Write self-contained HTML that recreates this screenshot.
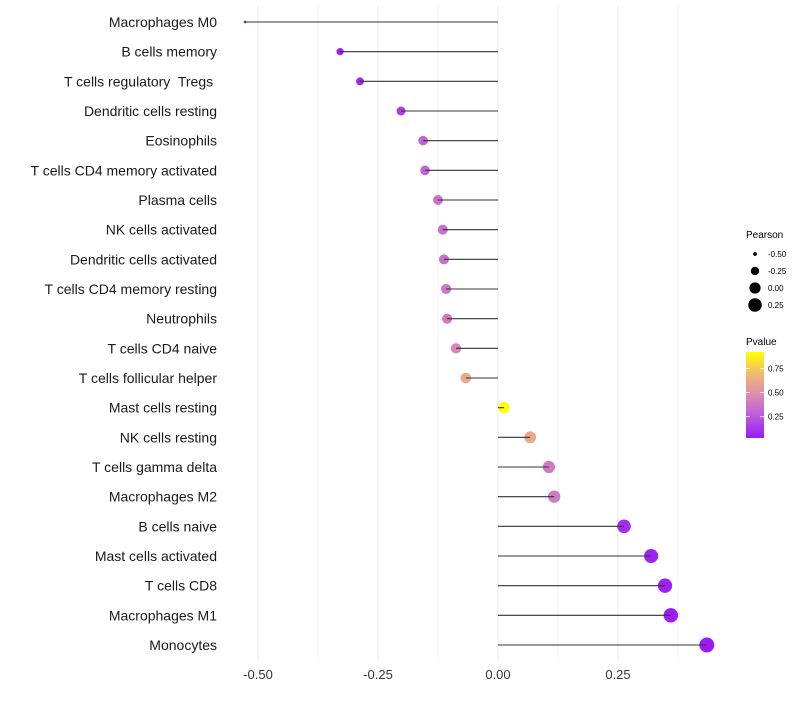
<!DOCTYPE html>
<html><head><meta charset="utf-8"><style>
body{margin:0;background:#fff;font-family:"Liberation Sans",sans-serif;}
svg text{font-family:"Liberation Sans",sans-serif;white-space:pre;}
</style></head><body>
<svg id="chart" width="800" height="700" xmlns="http://www.w3.org/2000/svg">
<defs><linearGradient id="pg" x1="0" y1="1" x2="0" y2="0">
<stop offset="0" stop-color="#9B1AF5"/><stop offset="0.3" stop-color="#C064D8"/><stop offset="0.5" stop-color="#DC8CB0"/><stop offset="0.7" stop-color="#EDB080"/><stop offset="1" stop-color="#FFFF00"/>
</linearGradient></defs>
<g id="grid"></g>
<g id="marks"></g>
<g id="ylab"></g>
<g id="xlab"></g>
<g>
<text x="746" y="238" font-size="10">Pearson</text>
<g id="sizeLeg"></g>
</g>
<g>
<text x="746" y="345" font-size="10">Pvalue</text>
<rect x="746" y="352" width="18" height="86" fill="url(#pg)"/>
<g id="colLeg"></g>
</g>
</svg>
<script>
const categories=["Macrophages M0","B cells memory","T cells regulatory  Tregs ","Dendritic cells resting","Eosinophils","T cells CD4 memory activated","Plasma cells","NK cells activated","Dendritic cells activated","T cells CD4 memory resting","Neutrophils","T cells CD4 naive","T cells follicular helper","Mast cells resting","NK cells resting","T cells gamma delta","Macrophages M2","B cells naive","Mast cells activated","T cells CD8","Macrophages M1","Monocytes"];
const pearson=[-0.527,-0.329,-0.2875,-0.202,-0.156,-0.152,-0.125,-0.115,-0.1125,-0.108,-0.106,-0.0875,-0.067,0.0125,0.067,0.106,0.117,0.2625,0.319,0.348,0.36,0.435];
const pvalue=[0.02,0.05,0.08,0.15,0.3,0.3,0.35,0.35,0.35,0.38,0.38,0.45,0.62,0.95,0.62,0.4,0.4,0.1,0.06,0.05,0.04,0.02];
const xTicks=[-0.5,-0.25,0,0.25];
const xTickLabels=["-0.50","-0.25","0.00","0.25"];
const sizeLegVals=[-0.5,-0.25,0,0.25];
const colLegVals=[0.25,0.5,0.75];

const NS="http://www.w3.org/2000/svg";
const X=v=>498+v*480;
const Y=i=>22+i*(623/21);
const R=p=>7.5*Math.sqrt(Math.max(0,p+0.56));
const PMIN=0.03,PMAX=0.92;
const stops=[[0,[0x9B,0x1A,0xF5]],[0.3,[0xC0,0x64,0xD8]],[0.5,[0xDC,0x8C,0xB0]],[0.7,[0xED,0xB0,0x80]],[1,[0xFF,0xFF,0x00]]];
function col(p){let t=Math.max(0,Math.min(1,(p-PMIN)/(PMAX-PMIN)));for(let k=1;k<stops.length;k++){if(t<=stops[k][0]){const a=stops[k-1],b=stops[k];const f=(t-a[0])/(b[0]-a[0]);const c=a[1].map((x,j)=>Math.round(x+(b[1][j]-x)*f));return `rgb(${c})`;}}return "#ff0";}
function mk(tag,attrs,parent){const e=document.createElementNS(NS,tag);for(const k in attrs)e.setAttribute(k,attrs[k]);parent.appendChild(e);return e;}
const grid=document.getElementById('grid'),marks=document.getElementById('marks'),ylab=document.getElementById('ylab'),xlab=document.getElementById('xlab');
for(let v=-0.5;v<=0.375+1e-9;v+=0.125){const g=mk('line',{x1:X(v),x2:X(v),y1:6,y2:662,stroke:Math.abs((v*4)%1)<1e-9?'#ebebeb':'#f3f3f3','stroke-width':1},grid);

}
xTicks.forEach((v,i)=>{const t=mk('text',{x:X(v),y:679,'font-size':13,'text-anchor':'middle',fill:'#333'},xlab);t.textContent=xTickLabels[i];

});
categories.forEach((c,i)=>{
const t=mk('text',{x:217,y:Y(i)+5,'font-size':14,'text-anchor':'end',fill:'#1a1a1a'},ylab);t.textContent=c;


const d=mk('circle',{cx:X(pearson[i]),cy:Y(i),r:R(pearson[i]),fill:col(pvalue[i])},marks);


const l=mk('line',{x1:X(0),x2:X(pearson[i]),y1:Y(i),y2:Y(i),stroke:'#333','stroke-width':1.1},marks);


});
const sl=document.getElementById('sizeLeg');
sizeLegVals.forEach((v,i)=>{const y=254+i*17;const c=mk('circle',{cx:755,cy:y,r:R(v),fill:'#000'},sl);


const t=mk('text',{x:768,y:y+3,'font-size':8},sl);t.textContent=v.toFixed(2);

});
const cl=document.getElementById('colLeg');
colLegVals.forEach(v=>{const y=438-(v-PMIN)/(PMAX-PMIN)*86;
const tk=mk('line',{x1:746,x2:750,y1:y,y2:y,stroke:'#fff','stroke-width':0.8},cl);


const tk2=mk('line',{x1:760,x2:764,y1:y,y2:y,stroke:'#fff','stroke-width':0.8},cl);


const t=mk('text',{x:768,y:y+3,'font-size':8},cl);t.textContent=v.toFixed(2);

});
</script>
</body></html>
